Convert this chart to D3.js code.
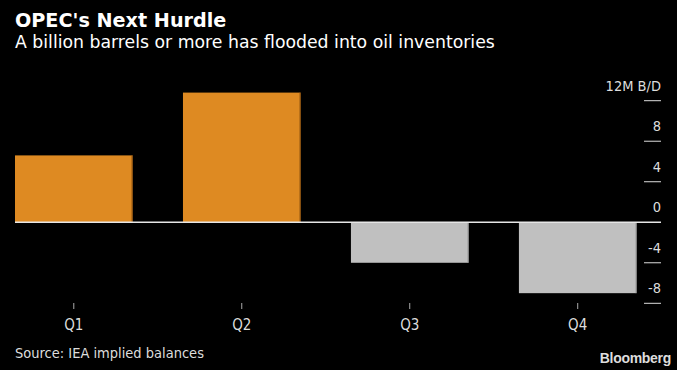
<!DOCTYPE html>
<html>
<head>
<meta charset="UTF-8">
<script src="https://d3js.org/d3.v7.min.js"></script>
<style>
  * { margin: 0; padding: 0; }
  body { background: #000; font-family: "DejaVu Sans Condensed", "DejaVu Sans", sans-serif; }
  svg { display: block; }
</style>
</head>
<body>
<div id="chart"></div>
<script>
  const quarters = ["Q1", "Q2", "Q3", "Q4"];
  const balances = [6.6, 12.8, -4.0, -7.0];
  const yTicks = [12, 8, 4, 0, -4, -8];

  const W = 677, H = 370;
  const svg = d3.select("#chart").append("svg")
      .attr("width", W).attr("height", H)
      .style("background", "#000");

  const x = d3.scaleBand()
      .domain(quarters)
      .range([15, 636.5])
      .paddingInner(0.3)
      .paddingOuter(0);

  const y = d3.scaleLinear()
      .domain([-8, 12])
      .range([303.3, 100.7]);

  // title
  svg.append("text")
     .attr("x", 15).attr("y", 27)
     .style("font-family", "'DejaVu Sans', sans-serif")
     .style("font-weight", "bold")
     .style("font-size", "19.2px")
     .style("fill", "#fff")
     .text("OPEC's Next Hurdle");

  svg.append("text")
     .attr("x", 15).attr("y", 48)
     .style("font-family", "'DejaVu Sans', sans-serif")
     .style("font-size", "17.3px")
     .style("fill", "#fff")
     .text("A billion barrels or more has flooded into oil inventories");

  // bars
  svg.selectAll(".bar")
     .data(quarters)
     .enter().append("rect")
     .attr("class", "bar")
     .attr("x", d => x(d))
     .attr("width", x.bandwidth())
     .attr("y", (d, i) => y(Math.max(0, balances[i])))
     .attr("height", (d, i) => Math.abs(y(balances[i]) - y(0)))
     .attr("fill", (d, i) => balances[i] >= 0 ? "#de8a22" : "#c0c0c0");

  // darker right edge on bars
  svg.selectAll(".edge")
     .data(quarters)
     .enter().append("line")
     .attr("x1", d => x(d) + x.bandwidth() - 0.5)
     .attr("x2", d => x(d) + x.bandwidth() - 0.5)
     .attr("y1", (d, i) => y(Math.max(0, balances[i])))
     .attr("y2", (d, i) => y(Math.min(0, balances[i])))
     .attr("stroke", (d, i) => balances[i] >= 0 ? "#8a5010" : "#9a9a9a")
     .attr("stroke-width", 1);

  // zero line
  svg.append("line")
     .attr("x1", 15).attr("x2", 661)
     .attr("y1", y(0)).attr("y2", y(0))
     .attr("stroke", "#e6e6e6")
     .attr("stroke-width", 1.5);

  // right axis: tick lines + labels above
  const yAxis = svg.append("g");
  yAxis.selectAll("line")
     .data(yTicks.filter(t => t !== 0))
     .enter().append("line")
     .attr("x1", 644).attr("x2", 661)
     .attr("y1", d => y(d)).attr("y2", d => y(d))
     .attr("stroke", "#ddd")
     .attr("stroke-width", 1);

  yAxis.selectAll("text")
     .data(yTicks)
     .enter().append("text")
     .attr("x", 661)
     .attr("y", d => y(d) - 10)
     .attr("text-anchor", "end")
     .style("font-size", "14.5px")
     .style("fill", "#ddd")
     .text(d => d === 12 ? "12M B/D" : d);

  // bottom axis
  const xAxis = svg.append("g")
     .attr("transform", "translate(0,303)")
     .call(d3.axisBottom(x).tickSize(6).tickPadding(10));
  xAxis.select(".domain").remove();
  xAxis.selectAll("line").attr("stroke", "#aaa");
  xAxis.selectAll("text")
     .style("font-family", "'DejaVu Sans Condensed', sans-serif")
     .style("font-size", "15px")
     .style("fill", "#ddd");

  // footer
  svg.append("text")
     .attr("x", 15).attr("y", 357.5)
     .style("font-size", "14.5px")
     .style("fill", "#ddd")
     .text("Source: IEA implied balances");

  svg.append("text")
     .attr("x", 671).attr("y", 363)
     .attr("text-anchor", "end")
     .style("font-family", "'Liberation Sans', Arial, sans-serif")
     .style("font-weight", "bold")
     .style("font-size", "14px")
     .style("letter-spacing", "-0.3px")
     .style("fill", "#ddd")
     .text("Bloomberg");
</script>
</body>
</html>
